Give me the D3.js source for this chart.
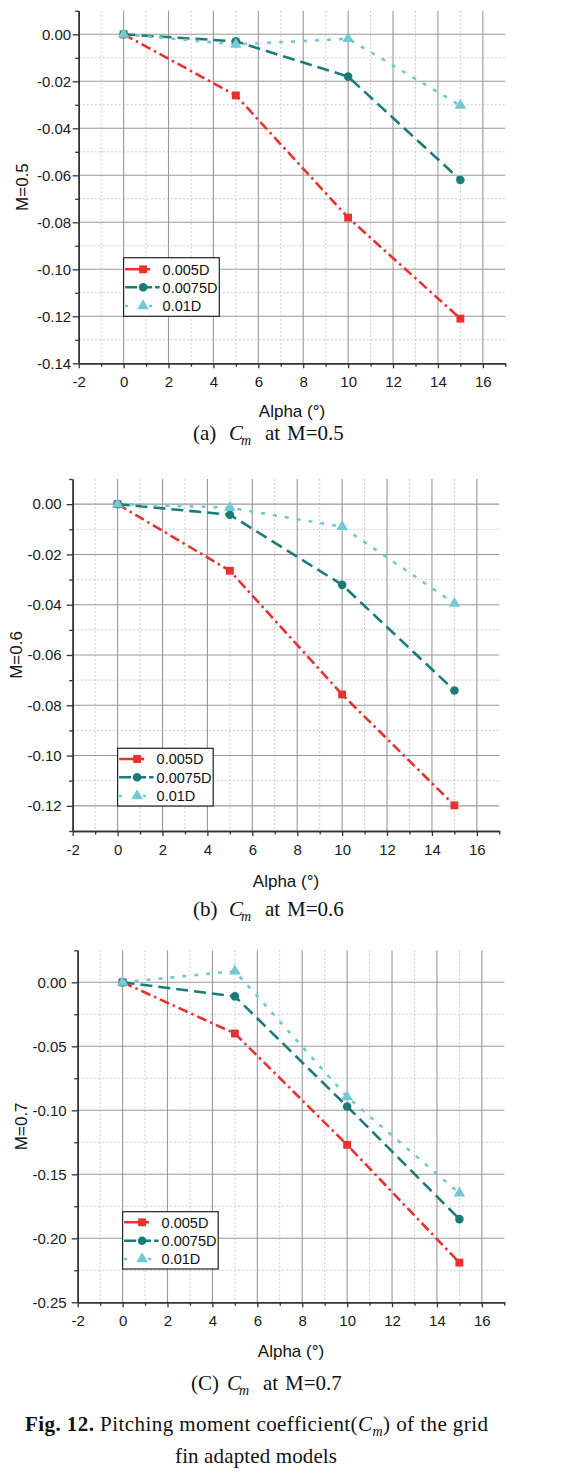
<!DOCTYPE html>
<html>
<head>
<meta charset="utf-8">
<script src="https://cdn.jsdelivr.net/npm/d3@7"></script>
<style>
  html, body { margin: 0; padding: 0; background: #fff; }
  svg { display: block; }
</style>
</head>
<body>
<svg id="fig" width="576" height="1472"></svg>
<script>
// ---------------- DATA ----------------
const alpha = [0, 5, 10, 15];
const seriesNames = ["0.005D", "0.0075D", "0.01D"];

// M = 0.5
const m05_005  = [0, -0.026, -0.078, -0.121];
const m05_0075 = [0, -0.003, -0.018, -0.062];
const m05_01   = [0, -0.0043, -0.0019, -0.0303];
// M = 0.6
const m06_005  = [0, -0.0265, -0.0757, -0.1198];
const m06_0075 = [0, -0.0042, -0.0321, -0.0741];
const m06_01   = [0, -0.0014, -0.009, -0.0395];
// M = 0.7
const m07_005  = [0, -0.040, -0.127, -0.219];
const m07_0075 = [0, -0.011, -0.097, -0.185];
const m07_01   = [0, 0.0087, -0.0896, -0.1648];

const xTicksMajor = [-2, 0, 2, 4, 6, 8, 10, 12, 14, 16];
const xTicksMinor = [-1, 1, 3, 5, 7, 9, 11, 13, 15, 17];
const xDomain = [-2, 17];

const yTicksMajor05 = [0, -0.02, -0.04, -0.06, -0.08, -0.10, -0.12, -0.14];
const yTicksMinor05 = [0.01, -0.01, -0.03, -0.05, -0.07, -0.09, -0.11, -0.13];
const yTicksMajor06 = [0, -0.02, -0.04, -0.06, -0.08, -0.10, -0.12];
const yTicksMinor06 = [0.01, -0.01, -0.03, -0.05, -0.07, -0.09, -0.11, -0.13];
const yTicksMajor07 = [0, -0.05, -0.10, -0.15, -0.20, -0.25];
const yTicksMinor07 = [0.025, -0.025, -0.075, -0.125, -0.175, -0.225];

// ---------------- STYLE ----------------
const colors = ["#e8322f", "#1b7b78", "#72c8d3"];
const dashes = ["10,4,2.5,4", "12,6", "4,8"];
const symbols = [d3.symbolSquare, d3.symbolCircle, d3.symbolTriangle];
const symSizes = [62, 58, 58];
const sansFont = "Arial, 'Liberation Sans', Helvetica, sans-serif";
const serifFont = "'Times New Roman', 'Liberation Serif', serif";

const svg = d3.select("#fig");

function drawChart(cfg) {
  const g = svg.append("g");
  const x = d3.scaleLinear().domain(xDomain).range([cfg.x0, cfg.x1]);
  const y = d3.scaleLinear().domain(cfg.yDomain).range([cfg.yBot, cfg.yTop]);

  // grid: minor (dotted)
  g.selectAll(".vmin").data(xTicksMinor.filter(v => v < xDomain[1])).enter()
    .append("line")
    .attr("x1", d => x(d)).attr("x2", d => x(d))
    .attr("y1", cfg.yTop).attr("y2", cfg.yBot)
    .attr("stroke", "#c4c4c4").attr("stroke-width", 0.9).attr("stroke-dasharray", "2,2");
  g.selectAll(".hmin").data(cfg.yMinor.filter(v => v < cfg.yDomain[1])).enter()
    .append("line")
    .attr("x1", cfg.x0).attr("x2", cfg.x1)
    .attr("y1", d => y(d)).attr("y2", d => y(d))
    .attr("stroke", "#c4c4c4").attr("stroke-width", 0.9).attr("stroke-dasharray", "2,2");
  // grid: major (solid)
  g.selectAll(".vmaj").data(xTicksMajor.filter(v => v > xDomain[0])).enter()
    .append("line")
    .attr("x1", d => x(d)).attr("x2", d => x(d))
    .attr("y1", cfg.yTop).attr("y2", cfg.yBot)
    .attr("stroke", "#999").attr("stroke-width", 1.1);
  g.selectAll(".hmaj").data(cfg.yMajor.filter(v => v > cfg.yDomain[0])).enter()
    .append("line")
    .attr("x1", cfg.x0).attr("x2", cfg.x1)
    .attr("y1", d => y(d)).attr("y2", d => y(d))
    .attr("stroke", "#999").attr("stroke-width", 1.1);

  // axes
  const fmtY = d => (Math.abs(d) < 1e-9 ? "0.00" : d.toFixed(2));
  const yAx = g.append("g").attr("transform", `translate(${cfg.x0},0)`)
    .call(d3.axisLeft(y).tickValues(cfg.yMajor).tickSize(6).tickSizeOuter(0)
      .tickPadding(cfg.yPad).tickFormat(fmtY));
  const yAxMin = g.append("g").attr("transform", `translate(${cfg.x0},0)`)
    .call(d3.axisLeft(y).tickValues(cfg.yMinor).tickSize(3.5).tickSizeOuter(0).tickFormat(""));
  const xAx = g.append("g").attr("transform", `translate(0,${cfg.yBot})`)
    .call(d3.axisBottom(x).tickValues(xTicksMajor).tickSize(5).tickSizeOuter(0)
      .tickPadding(8).tickFormat(d => String(d)));
  const xAxMin = g.append("g").attr("transform", `translate(0,${cfg.yBot})`)
    .call(d3.axisBottom(x).tickValues(xTicksMinor).tickSize(3.5).tickSizeOuter(0).tickFormat(""));
  [yAx, yAxMin, xAx, xAxMin].forEach(a => {
    a.select(".domain").attr("stroke", "#333").attr("stroke-width", 1.5);
    a.selectAll(".tick line").attr("stroke", "#333").attr("stroke-width", 1.3);
    a.selectAll("text").attr("font-family", sansFont).attr("font-size", 15).attr("fill", "#1a1a1a");
  });

  // series lines and markers
  cfg.series.forEach((vals, i) => {
    const pts = alpha.map((a, k) => [a, vals[k]]);
    g.append("path")
      .attr("d", d3.line().x(d => x(d[0])).y(d => y(d[1]))(pts))
      .attr("fill", "none").attr("stroke", colors[i]).attr("stroke-width", 2.6)
      .attr("stroke-dasharray", dashes[i]);
  });
  cfg.series.forEach((vals, i) => {
    g.selectAll(null).data(alpha.map((a, k) => [a, vals[k]])).enter()
      .append("path")
      .attr("d", d3.symbol().type(symbols[i]).size(symSizes[i]))
      .attr("transform", d => `translate(${x(d[0])},${y(d[1])})`)
      .attr("fill", colors[i]);
  });

  // legend
  const lx = x(0);
  const L = cfg.legend;
  g.append("rect").attr("x", lx).attr("y", L.top).attr("width", L.w).attr("height", L.h)
    .attr("fill", "#fff").attr("stroke", "#222").attr("stroke-width", 1.2);
  seriesNames.forEach((name, i) => {
    const ry = L.top + L.rows[i];
    g.append("line").attr("x1", lx + 1.5).attr("x2", lx + 36).attr("y1", ry).attr("y2", ry)
      .attr("stroke", colors[i]).attr("stroke-width", 2.6)
      .attr("stroke-dasharray", i === 0 ? "16,4,5,20" : (i === 1 ? "12,3" : "3,12,3,6"));
    g.append("path").attr("d", d3.symbol().type(symbols[i]).size(symSizes[i]))
      .attr("transform", `translate(${lx + 19.5},${ry})`).attr("fill", colors[i]);
    g.append("text").attr("x", lx + 39).attr("y", ry).attr("dy", "0.36em")
      .attr("font-family", sansFont).attr("font-size", 14.5).attr("fill", "#111").text(name);
  });

  // axis titles
  g.append("text").attr("transform", `translate(${cfg.yLabelX},${(cfg.yTop + cfg.yBot) / 2}) rotate(-90)`)
    .attr("text-anchor", "middle").attr("dy", "0.36em")
    .attr("font-family", sansFont).attr("font-size", 17).attr("fill", "#111").text(cfg.yLabel);
  g.append("text").attr("x", (cfg.x0 + cfg.x1) / 2).attr("y", cfg.alphaBase)
    .attr("text-anchor", "middle")
    .attr("font-family", sansFont).attr("font-size", 17).attr("fill", "#111").text("Alpha (°)");

  // caption
  const s = cfg.capX, cb = cfg.capBase;
  const cap = g.append("text").attr("y", cb).attr("font-family", serifFont).attr("font-size", 21).attr("fill", "#111");
  cap.append("tspan").attr("x", s).text(cfg.capTag);
  cap.append("tspan").attr("x", s + 36).attr("font-style", "italic").text("C");
  cap.append("tspan").attr("x", s + 48).attr("dy", 5).attr("font-style", "italic").attr("font-size", 14).text("m");
  cap.append("tspan").attr("x", s + 72).attr("dy", -5).text("at");
  cap.append("tspan").attr("x", s + 94).text(cfg.capM);
}

drawChart({
  x0: 78.7, x1: 505.3, yTop: 10.8, yBot: 363.3, yDomain: [-0.14, 0.01],
  yMajor: yTicksMajor05, yMinor: yTicksMinor05, yPad: 1.5,
  series: [m05_005, m05_0075, m05_01],
  legend: { top: 257.7, w: 95.7, h: 58.6, rows: [11.6, 29.6, 48.3] },
  yLabel: "M=0.5", yLabelX: 22, alphaBase: 417,
  capX: 193, capBase: 440, capTag: "(a)", capM: "M=0.5"
});
drawChart({
  x0: 72.7, x1: 499.3, yTop: 479, yBot: 831, yDomain: [-0.13, 0.01],
  yMajor: yTicksMajor06, yMinor: yTicksMinor06, yPad: 5,
  series: [m06_005, m06_0075, m06_01],
  legend: { top: 748.3, w: 95.6, h: 57.7, rows: [10.7, 29, 47.7] },
  yLabel: "M=0.6", yLabelX: 16, alphaBase: 886.5,
  capX: 193, capBase: 916, capTag: "(b)", capM: "M=0.6"
});
drawChart({
  x0: 77.7, x1: 504.3, yTop: 950.3, yBot: 1302.3, yDomain: [-0.25, 0.025],
  yMajor: yTicksMajor07, yMinor: yTicksMinor07, yPad: 5,
  series: [m07_005, m07_0075, m07_01],
  legend: { top: 1211.7, w: 95.6, h: 57.3, rows: [10.6, 29, 47.3] },
  yLabel: "M=0.7", yLabelX: 21, alphaBase: 1356.5,
  capX: 191, capBase: 1389.5, capTag: "(C)", capM: "M=0.7"
});

// figure caption
const fc = svg.append("text").attr("x", 25).attr("y", 1430.5)
  .attr("font-family", serifFont).attr("font-size", 21).attr("fill", "#111")
  .attr("textLength", 463).attr("lengthAdjust", "spacing");
fc.append("tspan").attr("font-weight", "bold").text("Fig. 12. ");
fc.append("tspan").text("Pitching moment coefficient(");
fc.append("tspan").attr("font-style", "italic").text("C");
fc.append("tspan").attr("font-style", "italic").attr("font-size", 14).attr("dy", 5).text("m");
fc.append("tspan").attr("dy", -5).text(") of the grid");
svg.append("text").attr("x", 175).attr("y", 1462.5)
  .attr("font-family", serifFont).attr("font-size", 21).attr("fill", "#111")
  .attr("textLength", 162).attr("lengthAdjust", "spacing").text("fin adapted models");
</script>
</body>
</html>
